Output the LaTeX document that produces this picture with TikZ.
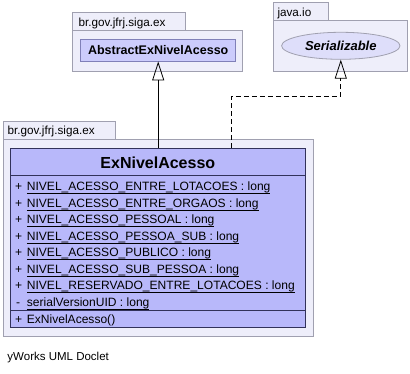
\documentclass[tikz,border=0pt]{standalone}
\usepackage{fontspec}
\setmainfont{Liberation Sans}
\usetikzlibrary{shapes.geometric,arrows.meta}

\definecolor{pkgfill}{RGB}{238,238,250}
\definecolor{pkgline}{RGB}{160,160,176}
\definecolor{clsfill}{RGB}{184,184,250}
\definecolor{clsline}{RGB}{50,50,90}
\definecolor{absfill}{RGB}{204,204,252}
\definecolor{absline}{RGB}{128,128,184}
\definecolor{ifcfill}{RGB}{222,222,250}

% static members are underlined just below the baseline
\newcommand\statvar[1]{\setbox0\hbox{#1}\rlap{\vrule width\wd0 height -2.2pt depth 3pt}\box0}

\begin{document}
\begin{tikzpicture}[x=1pt,y=-1pt,
    pkg/.style={draw=pkgline,fill=pkgfill,line width=0.8pt},
    pkglabel/.style={anchor=base west,inner sep=0,font=\fontsize{11.7}{13}\selectfont},
    member/.style={anchor=base west,inner sep=0,font=\fontsize{12.05}{14}\selectfont},
    realize/.style={-{Triangle[open,length=19pt,width=12pt]},line width=0.8pt}]
    \useasboundingbox (0,0) rectangle (410,374);

    % Paket br.gov.jfrj.siga.ex (oben)
    \draw[pkg] (72.7,12.7) rectangle (185,30.7);
    \draw[pkg] (72.7,30.7) rectangle (242.7,71);
    \node[pkglabel] at (78.3,27) {br.gov.jfrj.siga.ex};
    \node[draw=absline,fill=absfill,line width=0.8pt,minimum width=155pt,minimum height=21.7pt,
          font=\bfseries\fontsize{12.5}{14}\selectfont] (abstract) at (158.2,50.2) {AbstractExNivelAcesso};

    % Paket java.io
    \draw[pkg] (273.3,2.3) rectangle (328.3,20);
    \draw[pkg] (273.3,20) rectangle (407.7,71);
    \node[pkglabel] at (277.3,16.5) {java.io};
    \node[ellipse,draw=pkgline,fill=ifcfill,line width=0.8pt,minimum width=118.4pt,minimum height=27pt,inner sep=0,
          font=\bfseries\itshape\fontsize{13}{15}\selectfont] (serial) at (340.8,45.8) {Serializable};

    % Paket br.gov.jfrj.siga.ex (unten)
    \draw[pkg] (3,121.7) rectangle (115,139.3);
    \draw[pkg] (3,139.3) rectangle (313.3,336);
    \node[pkglabel] at (7.5,135) {br.gov.jfrj.siga.ex};

    % Klasse ExNivelAcesso
    \node[draw=clsline,fill=clsfill,line width=0.9pt,minimum width=294.3pt,minimum height=179.4pt,inner sep=0]
          (exnivel) at (157.85,238) {};
    \node[font=\bfseries\fontsize{16}{18}\selectfont] (title) at (157.85,163) {ExNivelAcesso};
    \draw[clsline,line width=0.9pt] (exnivel.west |- 0,175) -- (exnivel.east |- 0,175);
    \draw[clsline,line width=0.9pt] (exnivel.west |- 0,310.5) -- (exnivel.east |- 0,310.5);

    \foreach \name [count=\i from 0] in {NIVEL\_ACESSO\_ENTRE\_LOTACOES,NIVEL\_ACESSO\_ENTRE\_ORGAOS,
        NIVEL\_ACESSO\_PESSOAL,NIVEL\_ACESSO\_PESSOA\_SUB,NIVEL\_ACESSO\_PUBLICO,
        NIVEL\_ACESSO\_SUB\_PESSOA,NIVEL\_RESERVADO\_ENTRE\_LOTACOES}{
        \node[member] at (15,191+16.5*\i) {+};
        \node[member] at (26.7,191+16.5*\i) {\statvar{\name\ : long}};
    }
    \node[member] at (16,306.5) {-};
    \node[member] at (26.7,306.5) {\statvar{serialVersionUID : long}};
    \node[member] at (15,323.5) {+};
    \node[member] at (26.7,323.5) {ExNivelAcesso()};

    % Vererbung und Realisierung
    \draw[realize] (exnivel.north -| abstract.south) -- (abstract.south);
    \coordinate (bend) at (231.7,96);
    \draw[realize,dash pattern=on 5pt off 3pt] (exnivel.north -| bend) -- (bend) -- (bend -| serial.south) -- (serial.south);

    \node[anchor=base west,inner sep=0,font=\fontsize{11.5}{13}\selectfont] (credit) at (7.3,360) {yWorks UML Doclet};
\end{tikzpicture}
\end{document}
